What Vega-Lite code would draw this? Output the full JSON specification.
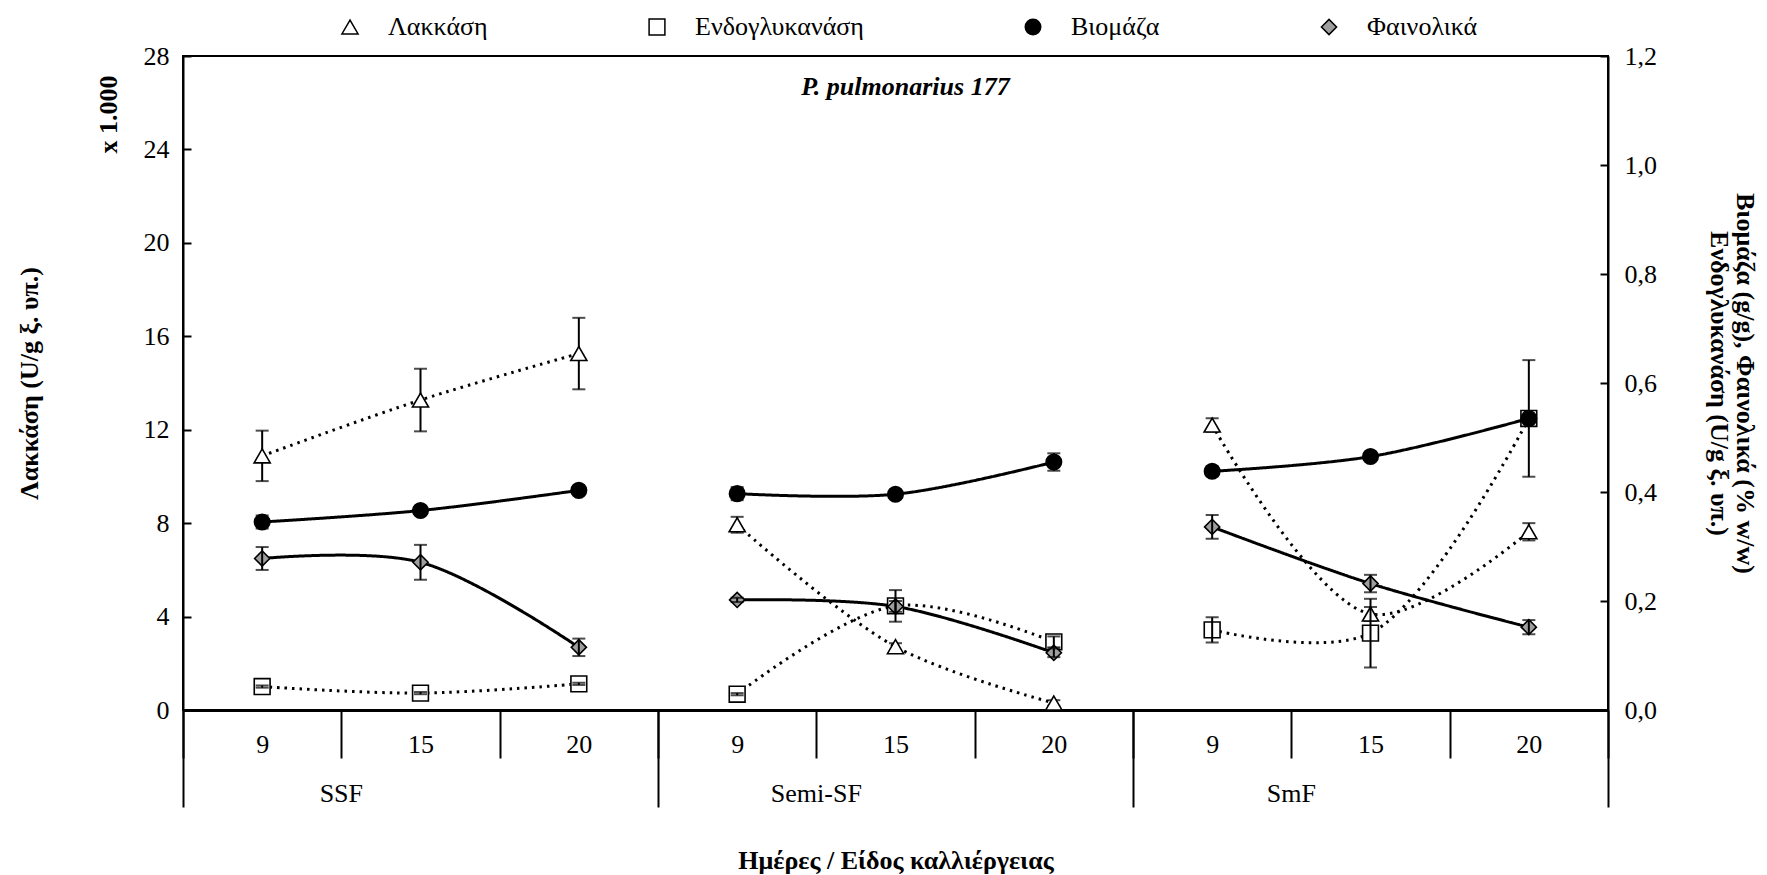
{
  "$schema": "https://vega.github.io/schema/vega-lite/v6.json",
  "autosize": "none",
  "padding": {"left": 183, "top": 56, "right": 159, "bottom": 165},
  "width": 1425,
  "height": 654,
  "config": {
    "font": "Liberation Serif",
    "view": {"stroke": "black", "strokeWidth": 2},
    "axis": {
      "labelFontSize": 26,
      "labelColor": "black",
      "titleFontSize": 26,
      "titleFontWeight": "bold",
      "titleColor": "black",
      "domainColor": "black",
      "domainWidth": 2,
      "tickColor": "black",
      "tickWidth": 2,
      "grid": false
    },
    "legend": {
      "direction": "horizontal", "columnPadding": 156, "labelOffset": 25,
      "labelFontSize": 26, "labelFont": "Liberation Serif", "labelColor": "black",
      "labelLimit": 400, "padding": 0
    }
  },
  "title": {
    "text": "P. pulmonarius 177",
    "font": "Liberation Serif",
    "fontSize": 26,
    "fontWeight": "bold",
    "fontStyle": "italic",
    "color": "black",
    "anchor": "middle",
    "frame": "group",
    "baseline": "alphabetic",
    "offset": -107,
    "dx": 10
  },
  "datasets": {
    "obs": [
      {"series": "Λακκάση", "culture": "SSF", "day": 9, "value": 10.88, "err": 1.08},
      {"series": "Λακκάση", "culture": "SSF", "day": 15, "value": 13.27, "err": 1.34},
      {"series": "Λακκάση", "culture": "SSF", "day": 20, "value": 15.26, "err": 1.53},
      {"series": "Λακκάση", "culture": "Semi-SF", "day": 9, "value": 7.93, "err": 0.34},
      {"series": "Λακκάση", "culture": "Semi-SF", "day": 15, "value": 2.71, "err": 0.15},
      {"series": "Λακκάση", "culture": "Semi-SF", "day": 20, "value": 0.3, "err": 0.12},
      {"series": "Λακκάση", "culture": "SmF", "day": 9, "value": 12.2, "err": 0.29},
      {"series": "Λακκάση", "culture": "SmF", "day": 15, "value": 4.11, "err": 0.3},
      {"series": "Λακκάση", "culture": "SmF", "day": 20, "value": 7.63, "err": 0.37},
      {"series": "Ενδογλυκανάση", "culture": "SSF", "day": 9, "value": 0.043, "err": 0.002},
      {"series": "Ενδογλυκανάση", "culture": "SSF", "day": 15, "value": 0.031, "err": 0.002},
      {"series": "Ενδογλυκανάση", "culture": "SSF", "day": 20, "value": 0.048, "err": 0.002},
      {"series": "Ενδογλυκανάση", "culture": "Semi-SF", "day": 9, "value": 0.029, "err": 0.002},
      {"series": "Ενδογλυκανάση", "culture": "Semi-SF", "day": 15, "value": 0.191, "err": 0.029},
      {"series": "Ενδογλυκανάση", "culture": "Semi-SF", "day": 20, "value": 0.125, "err": 0.01},
      {"series": "Ενδογλυκανάση", "culture": "SmF", "day": 9, "value": 0.147, "err": 0.023},
      {"series": "Ενδογλυκανάση", "culture": "SmF", "day": 15, "value": 0.141, "err": 0.063},
      {"series": "Ενδογλυκανάση", "culture": "SmF", "day": 20, "value": 0.535, "err": 0.107},
      {"series": "Βιομάζα", "culture": "SSF", "day": 9, "value": 0.345, "err": 0.012},
      {"series": "Βιομάζα", "culture": "SSF", "day": 15, "value": 0.366, "err": 0.004},
      {"series": "Βιομάζα", "culture": "SSF", "day": 20, "value": 0.403, "err": 0.005},
      {"series": "Βιομάζα", "culture": "Semi-SF", "day": 9, "value": 0.397, "err": 0.012},
      {"series": "Βιομάζα", "culture": "Semi-SF", "day": 15, "value": 0.396, "err": 0.004},
      {"series": "Βιομάζα", "culture": "Semi-SF", "day": 20, "value": 0.455, "err": 0.016},
      {"series": "Βιομάζα", "culture": "SmF", "day": 9, "value": 0.438, "err": 0.009},
      {"series": "Βιομάζα", "culture": "SmF", "day": 15, "value": 0.465, "err": 0.004},
      {"series": "Βιομάζα", "culture": "SmF", "day": 20, "value": 0.535, "err": 0.004},
      {"series": "Φαινολικά", "culture": "SSF", "day": 9, "value": 0.278, "err": 0.021},
      {"series": "Φαινολικά", "culture": "SSF", "day": 15, "value": 0.271, "err": 0.032},
      {"series": "Φαινολικά", "culture": "SSF", "day": 20, "value": 0.115, "err": 0.016},
      {"series": "Φαινολικά", "culture": "Semi-SF", "day": 9, "value": 0.202, "err": 0.004},
      {"series": "Φαινολικά", "culture": "Semi-SF", "day": 15, "value": 0.19, "err": 0.01},
      {"series": "Φαινολικά", "culture": "Semi-SF", "day": 20, "value": 0.105, "err": 0.008},
      {"series": "Φαινολικά", "culture": "SmF", "day": 9, "value": 0.336, "err": 0.022},
      {"series": "Φαινολικά", "culture": "SmF", "day": 15, "value": 0.232, "err": 0.016},
      {"series": "Φαινολικά", "culture": "SmF", "day": 20, "value": 0.152, "err": 0.013}
    ]
  },
  "data": {"name": "obs"},
  "transform": [{"calculate": "datum.culture + '|' + datum.day", "as": "slot"}],
  "layer": [
    {
      "transform": [{"filter": "datum.series === 'Λακκάση'"}],
      "mark": {"type": "line", "interpolate": "catmull-rom", "strokeWidth": 3, "color": "black"},
      "encoding": {
        "x": {
          "field": "slot", "type": "nominal",
          "scale": {"type": "band", "paddingInner": 0, "paddingOuter": 0,
            "domain": ["SSF|9", "SSF|15", "SSF|20", "Semi-SF|9", "Semi-SF|15", "Semi-SF|20", "SmF|9", "SmF|15", "SmF|20"]},
          "axis": {
            "orient": "bottom", "title": null, "tickBand": "extent", "tickSize": 48, "labelAngle": 0,
            "labelExpr": "split(datum.value, '|')[1]", "labelPadding": -27,
            "domainWidth": 3
          }
        },
        "y": {
          "field": "value", "type": "quantitative",
          "scale": {"domain": [0, 28], "nice": false},
          "axis": {
            "orient": "left", "values": [0, 4, 8, 12, 16, 20, 24, 28], "tickSize": -8,
            "labelPadding": 22, "title": "Λακκάση (U/g ξ. υπ.)", "titlePadding": 101
          }
        },
        "strokeDash": {
          "field": "series", "type": "nominal", "legend": null,
          "scale": {"domain": ["Βιομάζα", "Φαινολικά", "Λακκάση", "Ενδογλυκανάση"],
            "range": [[1, 0], [1, 0], [2.5, 5], [2.5, 5]]}
        },
        "detail": {"field": "culture"},
        "order": {"field": "day", "type": "quantitative"}
      }
    },
    {
      "transform": [{"filter": "datum.series === 'Λακκάση'"}],
      "mark": {"type": "errorbar", "color": "black",
        "rule": {"strokeWidth": 2}, "ticks": {"size": 13, "thickness": 2}},
      "encoding": {
        "x": {
          "field": "slot", "type": "nominal",
          "axis": {"orient": "bottom", "title": null, "values": ["SSF|9"], "bandPosition": 0, "tickSize": 97,
            "labels": false, "domain": false, "tickExtra": false}
        },
        "y": {
          "field": "value", "type": "quantitative",
          "scale": {"domain": [0, 28], "nice": false},
          "axis": {"orient": "left", "title": "x 1.000", "titleY": 58, "titleAlign": "center",
            "domain": false, "ticks": false, "labels": false, "titlePadding": 62}
        },
        "yError": {"field": "err"}
      }
    },
    {
      "transform": [{"filter": "datum.series === 'Λακκάση'"}],
      "mark": {"type": "point", "filled": true, "stroke": "black", "strokeWidth": 1.6, "opacity": 1},
      "encoding": {
        "x": {"field": "slot", "type": "nominal", "axis": null},
        "y": {"field": "value", "type": "quantitative", "scale": {"domain": [0, 28], "nice": false}, "axis": null},
        "shape": {
          "field": "series", "type": "nominal",
          "scale": {"domain": ["Λακκάση", "Ενδογλυκανάση", "Βιομάζα", "Φαινολικά"],
            "range": ["triangle-up", "square", "circle", "diamond"]},
          "legend": {"title": null, "orient": "none", "legendX": 154, "legendY": -42}
        },
        "fill": {
          "field": "series", "type": "nominal",
          "scale": {"domain": ["Λακκάση", "Ενδογλυκανάση", "Βιομάζα", "Φαινολικά"],
            "range": ["white", "white", "black", "#9e9e9e"]},
          "legend": {"title": null, "orient": "none", "legendX": 154, "legendY": -42}
        },
        "size": {
          "field": "series", "type": "nominal",
          "scale": {"domain": ["Λακκάση", "Ενδογλυκανάση", "Βιομάζα", "Φαινολικά"],
            "range": [260, 230, 190, 320]},
          "legend": {"title": null, "orient": "none", "legendX": 154, "legendY": -42}
        }
      }
    },
    {
      "transform": [{"filter": "datum.series !== 'Λακκάση'"}],
      "mark": {"type": "line", "interpolate": "catmull-rom", "strokeWidth": 3, "color": "black"},
      "encoding": {
        "x": {
          "field": "slot", "type": "nominal",
          "axis": {
            "orient": "bottom", "title": "Ημέρες / Είδος καλλιέργειας", "values": ["SSF|20", "Semi-SF|20", "SmF|20"],
            "bandPosition": 1, "tickExtra": false, "tickSize": 97, "domain": false,
            "labelAngle": 0, "labelExpr": "split(datum.value, '|')[0]", "labelOffset": -237.5,
            "labelPadding": -27, "titlePadding": 39
          }
        },
        "y": {
          "field": "value", "type": "quantitative",
          "scale": {"domain": [0, 1.2], "nice": false},
          "axis": {
            "orient": "right", "values": [0, 0.2, 0.4, 0.6, 0.8, 1.0, 1.2], "tickSize": -8,
            "labelPadding": 24, "labelExpr": "replace(format(datum.value, '.1f'), '.', ',')",
            "title": ["Βιομάζα (g/g), Φαινολικά (% w/w)", "Ενδογλυκανάση (U/g ξ. υπ.)"],
            "titleAngle": 90, "titleLineHeight": 26, "titlePadding": 49
          }
        },
        "strokeDash": {"field": "series", "type": "nominal", "legend": null},
        "detail": {"field": "culture"},
        "order": {"field": "day", "type": "quantitative"}
      }
    },
    {
      "transform": [{"filter": "datum.series !== 'Λακκάση'"}],
      "mark": {"type": "point", "filled": true, "stroke": "black", "strokeWidth": 1.6, "opacity": 1},
      "encoding": {
        "x": {"field": "slot", "type": "nominal", "axis": null},
        "y": {"field": "value", "type": "quantitative", "scale": {"domain": [0, 1.2], "nice": false}, "axis": null},
        "shape": {"field": "series", "type": "nominal"},
        "fill": {"field": "series", "type": "nominal"},
        "size": {"field": "series", "type": "nominal"}
      }
    },
    {
      "transform": [{"filter": "datum.series !== 'Λακκάση'"}],
      "mark": {"type": "errorbar", "color": "black",
        "rule": {"strokeWidth": 2}, "ticks": {"size": 13, "thickness": 2}},
      "encoding": {
        "x": {"field": "slot", "type": "nominal", "axis": null},
        "y": {"field": "value", "type": "quantitative", "scale": {"domain": [0, 1.2], "nice": false}, "axis": null},
        "yError": {"field": "err"}
      }
    }
  ],
  "resolve": {"scale": {"y": "independent"}, "axis": {"x": "independent"}}
}
